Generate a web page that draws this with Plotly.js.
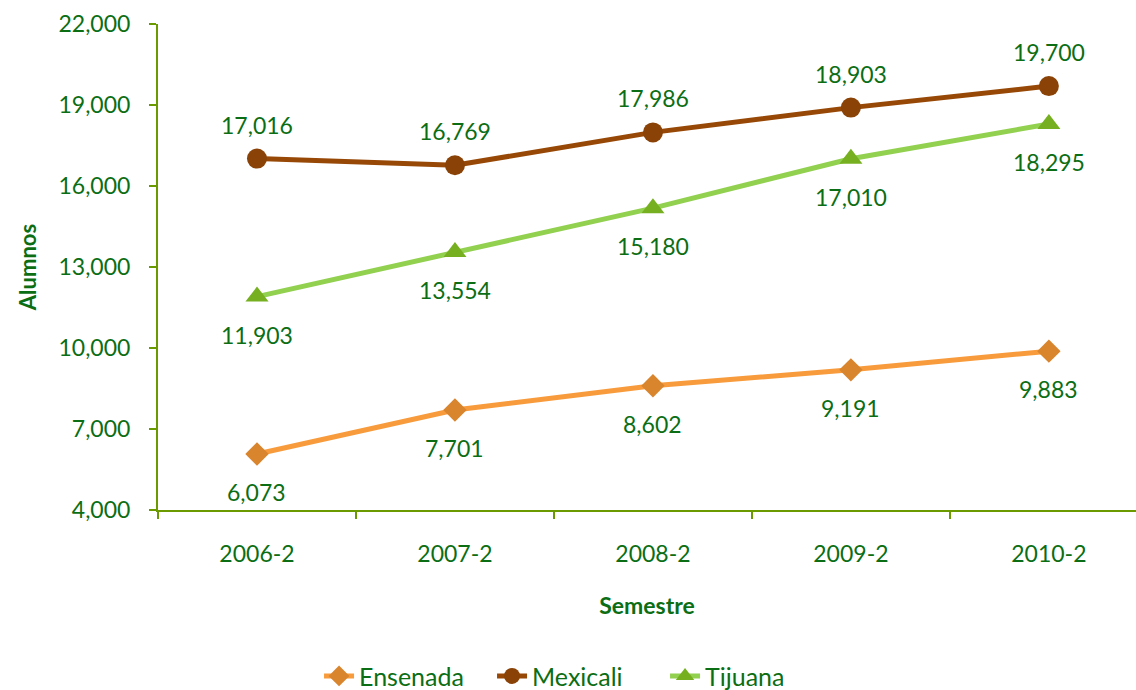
<!DOCTYPE html>
<html><head><meta charset="utf-8">
<script src="https://cdn.plot.ly/plotly-3.0.1.min.js"></script>
<style>body{margin:0;background:#fff}#chart{width:1136px;height:690px}</style>
</head><body><div id="chart"></div>
<script>
const semestres = ["2006-2","2007-2","2008-2","2009-2","2010-2"];
const ensenada = [6073, 7701, 8602, 9191, 9883];
const mexicali = [17016, 16769, 17986, 18903, 19700];
const tijuana = [11903, 13554, 15180, 17010, 18295];

const FONT = "Lato, 'Open Sans', sans-serif";
const TXT = "#0b6e14";
const AXIS = "#6a9a00";

function tr(name, y, color, mcolor, symbol, size) {
  return {x: semestres, y: y, name: name, type: "scatter", mode: "lines+markers",
    line: {color: color, width: 5},
    marker: {color: mcolor, symbol: symbol, size: size, line: {color: mcolor, width: 0}}};
}
const data = [
  tr("Ensenada", ensenada, "#f89b3c", "#d9852e", "diamond", 18),
  tr("Mexicali", mexicali, "#974806", "#8a4206", "circle", 20),
  tr("Tijuana", tijuana, "#92d050", "#76b020", "triangle-up", 20)
];
const ann = [];
function labels(y, shifts) {
  y.forEach((v, i) => ann.push({x: semestres[i], y: v, text: v.toLocaleString("en-US"),
    showarrow: false, yshift: shifts[i], font: {family: FONT, size: 23, color: TXT}}));
}
labels(ensenada, [-38, -38, -38, -38, -38]);
labels(mexicali, [34, 34, 34, 34, 34]);
labels(tijuana, [-38, -38, -38, -38, -38]);

const layout = {
  width: 1136, height: 690,
  margin: {l: 158, r: 0, t: 24, b: 180},
  paper_bgcolor: "#fff", plot_bgcolor: "#fff",
  font: {family: FONT, color: TXT, size: 22},
  showlegend: true,
  legend: {orientation: "h", x: 0.43, xanchor: "center", yref: "container", y: 0.02, yanchor: "middle",
    font: {family: FONT, size: 25, color: TXT}, tracegroupgap: 0,
    entrywidth: 128, entrywidthmode: "pixels"},
  xaxis: {type: "category", range: [-0.5, 4.44], tickson: "boundaries", automargin: false,
    ticks: "outside", ticklen: 7, tickcolor: AXIS, tickwidth: 2, ticklabelstandoff: 22,
    showline: true, linecolor: AXIS, linewidth: 2, showgrid: false, zeroline: false,
    tickfont: {family: FONT, size: 23, color: TXT},
    title: {text: "<b>Semestre</b>", font: {family: FONT, size: 23, color: TXT}, standoff: 32}},
  yaxis: {range: [4000, 22000], dtick: 3000, tick0: 4000, tickformat: ",d", automargin: false,
    ticks: "outside", ticklen: 7, tickcolor: AXIS, tickwidth: 2, ticklabelstandoff: 14,
    showline: true, linecolor: AXIS, linewidth: 2, showgrid: false, zeroline: false,
    tickfont: {family: FONT, size: 23, color: TXT},
    title: {text: "<b>Alumnos</b>", font: {family: FONT, size: 22, color: TXT}, standoff: 16}},
  annotations: ann
};
Plotly.newPlot("chart", data, layout, {displayModeBar: false, staticPlot: true});
</script></body></html>
